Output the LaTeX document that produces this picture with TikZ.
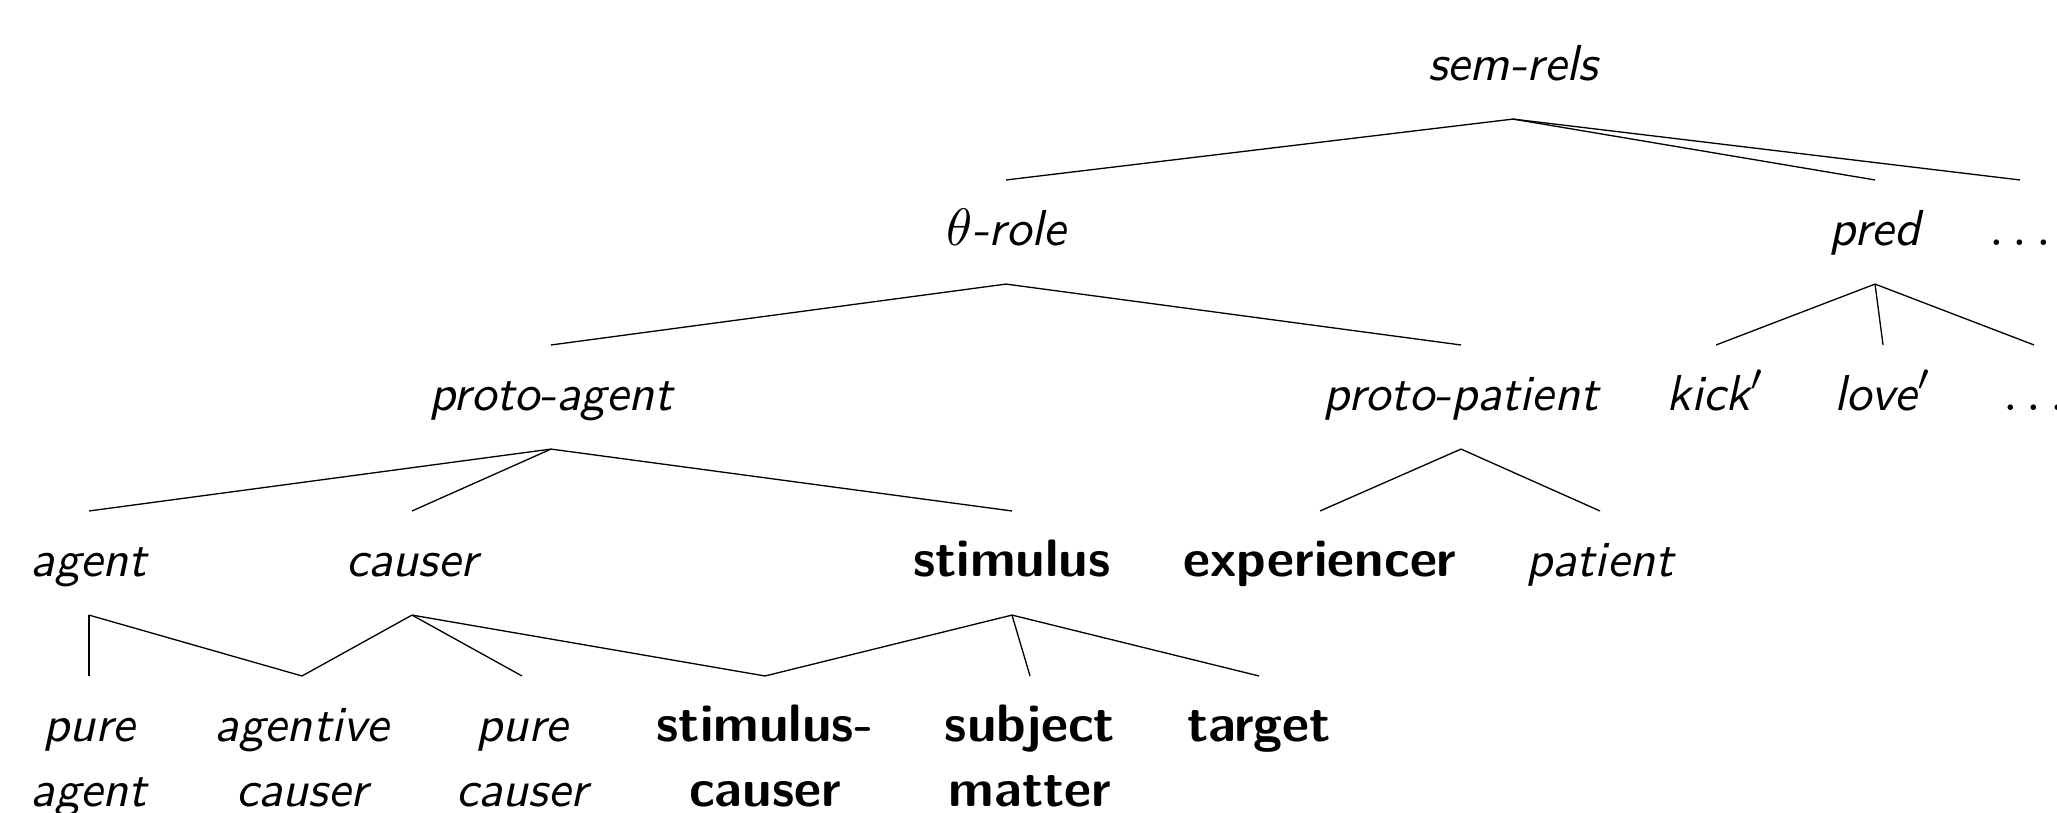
\documentclass[tikz,border=0pt]{standalone}
\usepackage{array}
\begin{document}
\begin{tikzpicture}[x=0.19pt,y=-0.19pt,
  lbl/.style={inner sep=0pt, text height=12.16pt, text depth=7.22pt, anchor=base},
  it/.style={lbl, font=\sffamily\itshape\fontsize{9.6}{12.5}\selectfont},
  bf/.style={lbl, font=\sffamily\bfseries\fontsize{10}{12.5}\selectfont},
  edge/.style={line width=0.25pt, black}]
\useasboundingbox (0,0) rectangle (2057,812);
% level 1
\node[it] (semrels) at (1513,80) {sem-rels};
% level 2
\node[it] (theta) at (1006,245) {$\theta$-role};
\node[it] (pred) at (1875,245) {pred};
\node[it] (dotsA) at (2020,245) {$\ldots$};
% level 3
\node[it] (pagent) at (551,410) {proto-agent};
\node[it] (ppatient) at (1461,410) {proto-patient};
\node[it] (kick) at (1716,410) {kick$'$};
\node[it] (love) at (1883,410) {love$'$};
\node[it] (dotsB) at (2034,410) {$\ldots$};
% level 4
\node[it] (agent) at (89,576) {agent};
\node[it] (causer) at (412,576) {causer};
\node[bf] (stimulus) at (1012,576) {stimulus};
\node[bf] (experiencer) at (1320,576) {experiencer};
\node[it] (patient) at (1600,576) {patient};
% level 5
\node[it] (pureagent) at (89,741) {\begin{tabular}[t]{@{}c@{}}pure\\agent\end{tabular}};
\node[it] (agcauser) at (302,741) {\begin{tabular}[t]{@{}c@{}}agentive\\causer\end{tabular}};
\node[it] (purecauser) at (522,741) {\begin{tabular}[t]{@{}c@{}}pure\\causer\end{tabular}};
\node[bf] (stimcauser) at (765,741) {\begin{tabular}[t]{@{}c@{}}stimulus-\\causer\end{tabular}};
\node[bf] (subjmatter) at (1030,741) {\begin{tabular}[t]{@{}c@{}}subject\\matter\end{tabular}};
\node[bf] (target) at (1259,741) {\begin{tabular}[t]{@{}c@{}}target\end{tabular}};
% edges
\foreach \p/\c in {semrels/theta, semrels/pred, semrels/dotsA,
  theta/pagent, theta/ppatient,
  pred/kick, pred/love, pred/dotsB,
  pagent/agent, pagent/causer, pagent/stimulus,
  ppatient/experiencer, ppatient/patient,
  agent/pureagent, agent/agcauser,
  causer/agcauser, causer/purecauser, causer/stimcauser,
  stimulus/stimcauser, stimulus/subjmatter, stimulus/target}
  \draw[edge] (\p.south) -- (\c.north);
\end{tikzpicture}
\end{document}
